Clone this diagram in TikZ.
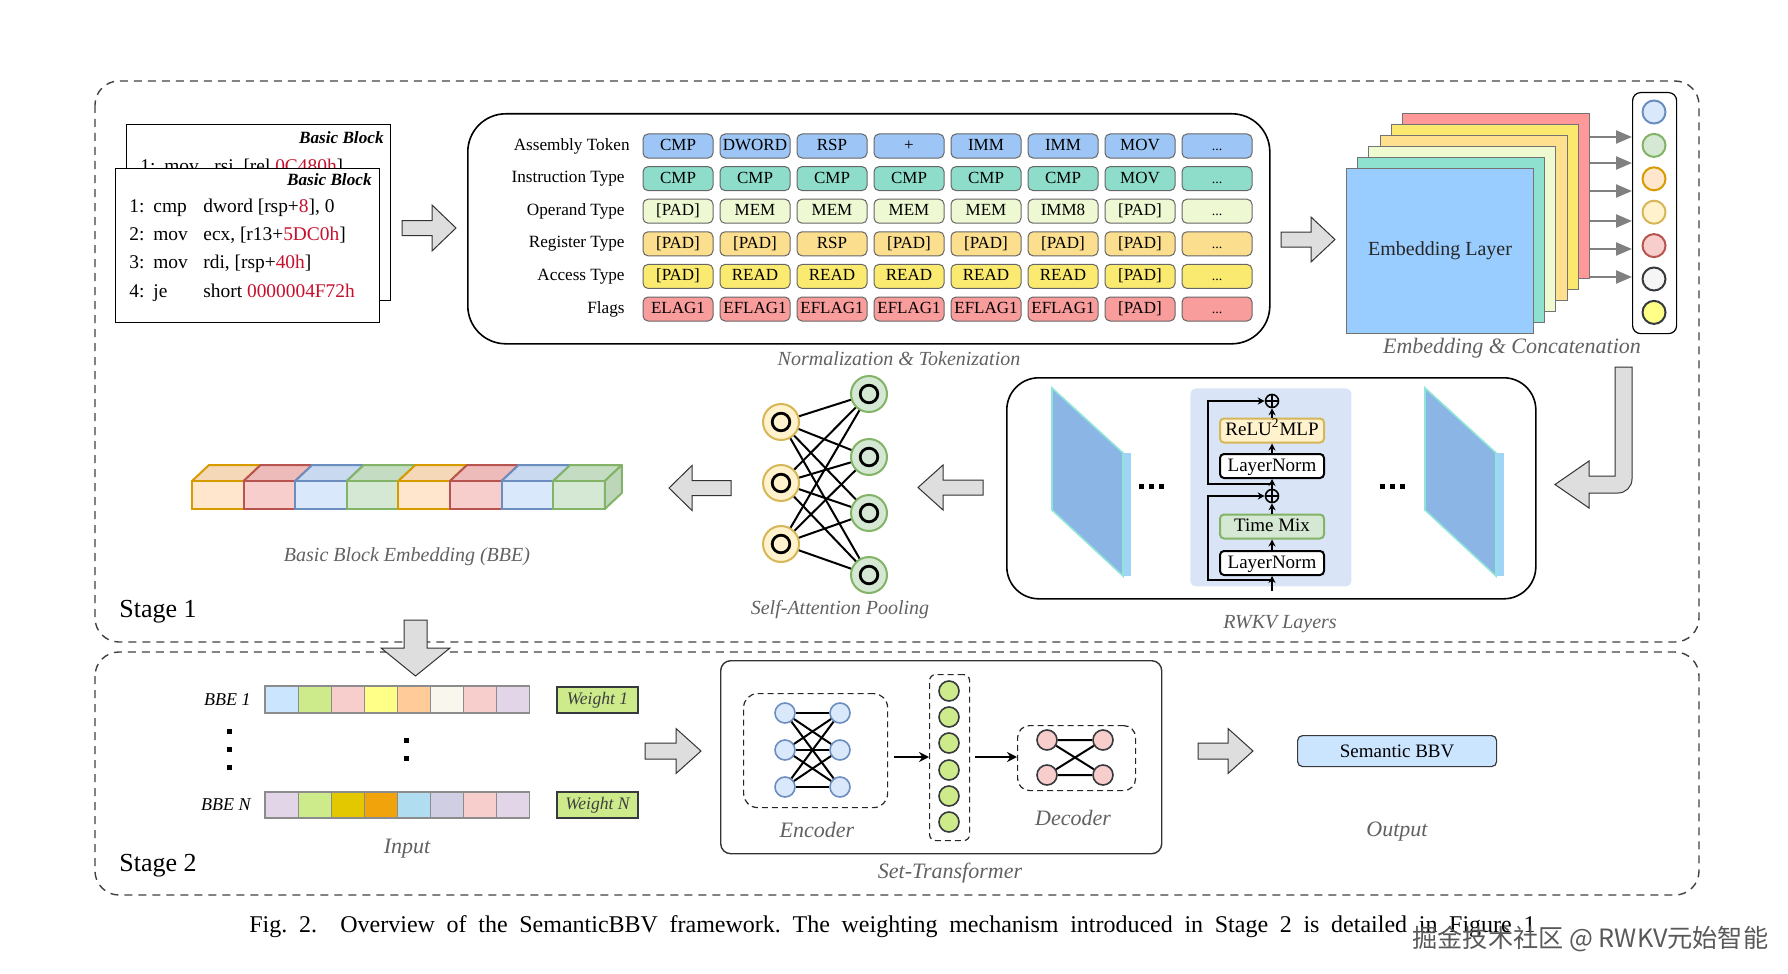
\documentclass[tikz,border=0pt]{standalone}
\usepackage{fontspec}
\setmainfont{Liberation Serif}
\newfontfamily\cjkfont{Noto Sans CJK SC}
\usetikzlibrary{arrows.meta}
\newcommand\fsz[1]{\fontsize{#1}{#1}\selectfont}
\newcommand\tdots{{\fsz{7}...}}
\definecolor{codered}{HTML}{C8102E}
\definecolor{tA}{HTML}{9DC6F6}
\definecolor{tB}{HTML}{8EDDCB}
\definecolor{tC}{HTML}{EEF9D3}
\definecolor{tD}{HTML}{FBDE8E}
\definecolor{tE}{HTML}{FAEA6F}
\definecolor{tF}{HTML}{F89C9C}
\definecolor{eA}{HTML}{99CCFF}
\definecolor{eB}{HTML}{8EE0CF}
\definecolor{eC}{HTML}{EEFBD0}
\definecolor{eD}{HTML}{FFE08F}
\definecolor{eE}{HTML}{FAE96E}
\definecolor{eF}{HTML}{FF9999}
\definecolor{dBlueF}{HTML}{DAE8FC}\definecolor{dBlueS}{HTML}{6C8EBF}
\definecolor{dGreenF}{HTML}{D5E8D4}\definecolor{dGreenS}{HTML}{82B366}
\definecolor{dOrF}{HTML}{FFE6CC}\definecolor{dOrS}{HTML}{D79B00}
\definecolor{dYelF}{HTML}{FFF2CC}\definecolor{dYelS}{HTML}{D6B656}
\definecolor{dRedF}{HTML}{F8CECC}\definecolor{dRedS}{HTML}{B85450}
\definecolor{dGrayF}{HTML}{F5F5F5}\definecolor{dDark}{HTML}{36393D}
\definecolor{dNote}{HTML}{FFFF88}
\definecolor{lime}{HTML}{CDEB8B}
\definecolor{skyF}{HTML}{CCE5FF}
\definecolor{topOr}{HTML}{F4D8B8}\definecolor{topRed}{HTML}{EDBBBA}
\definecolor{topBlue}{HTML}{C9D9EF}\definecolor{topGreen}{HTML}{C4DCC2}
\definecolor{sideGreen}{HTML}{BDD6BA}
\definecolor{slabF}{HTML}{8BB5E4}\definecolor{slabS}{HTML}{A0D4F7}\definecolor{slabE}{HTML}{8EE5D8}
\definecolor{rwbg}{HTML}{D9E5F7}
\definecolor{cOr}{HTML}{FFCC99}\definecolor{cIv}{HTML}{F9F7ED}\definecolor{cLav}{HTML}{E1D5E7}
\definecolor{cDY}{HTML}{E3C800}\definecolor{cDO}{HTML}{F0A30A}\definecolor{cCy}{HTML}{B1DDF0}\definecolor{cLB}{HTML}{D0CEE2}
\frenchspacing
\begin{document}
\begin{tikzpicture}[x=0.5pt,y=-0.5pt,
  stagebox/.style={draw=black!75, line width=0.7pt, dash pattern=on 4pt off 3pt, rounded corners=12pt},
  barrow/.style={draw=black!80, fill=black!13, line width=0.5pt, line join=miter},
  ital/.style={font=\itshape\fsz{10}, text=black!62},
  italb/.style={font=\itshape\fsz{11}, text=black!62},
  tok/.style={draw=black!60, line width=0.5pt, rounded corners=2.5pt, minimum width=35pt, minimum height=12pt, inner sep=0pt, font=\fsz{8.5}, text height=6pt, text depth=1.5pt},
  rlab/.style={anchor=base east, font=\fsz{8.6}, inner sep=0pt},
  code/.style={anchor=base west, font=\fsz{9.7}, inner sep=0pt},
  bbtitle/.style={anchor=base east, font=\bfseries\itshape\fsz{8.6}, inner sep=0pt},
  garrow/.style={draw=black!50, line width=1.2pt, -{Triangle[length=8pt,width=6.5pt]}},
  blk/.style={draw=black, line width=0.9pt, -{Stealth[length=3.5pt,width=3.5pt]}},
  ibox/.style={rounded corners=2pt, line width=1pt, minimum width=52pt, minimum height=12pt, inner sep=0pt, font=\fsz{9.5}, text height=6.5pt, text depth=1.5pt},
  plusn/.style={circle, draw, line width=0.8pt, minimum size=6.5pt, inner sep=0pt},
  satn/.style={circle, line width=1pt, minimum size=18pt, inner sep=0pt},
  embc/.style={circle, line width=1pt, minimum size=11.5pt, inner sep=0pt},
  stn/.style={circle, line width=0.8pt, minimum size=10pt, inner sep=0pt},
  dbox/.style={draw=black!85, line width=0.6pt, dash pattern=on 3pt off 2pt, anchor=north west, inner sep=0pt},
  lnk/.style={line width=1pt},
  cell/.style={draw=black!45, line width=0.6pt},
  wbox/.style={draw=dDark, fill=lime, line width=0.6pt, minimum width=40.5pt, minimum height=13pt, inner sep=0pt, font=\itshape\fsz{8.8}, text=black!75},
]
\useasboundingbox (0,0) rectangle (1788,974);

% ---------- stage frames ----------
\draw[stagebox] (95,81) rectangle (1699,642);
\draw[stagebox] (95,652) rectangle (1699,895);
\node[anchor=west, font=\fsz{13}, inner sep=0pt] (st1) at (119,612) {Stage 1};
\node[anchor=west, font=\fsz{13}, inner sep=0pt] (st2) at (119,866) {Stage 2};

% ---------- basic blocks ----------
\node[draw, fill=white, line width=0.6pt, anchor=north west, minimum width=132pt, minimum height=88pt, inner sep=0pt] (bb2) at (126,124) {};
\node[bbtitle] (bb2t) at (384,143) {Basic Block};
\node[code] (b0a) at (140,172) {1:};
\node[code] (b0b) at (164,172) {mov};
\node[code] (b0c) at (214,172) {rsi, [rel \textcolor{codered}{0C480h}]};
\node[draw, fill=white, line width=0.6pt, anchor=north west, minimum width=132pt, minimum height=77pt, inner sep=0pt] (bb1) at (115,168) {};
\node[bbtitle] (bb1t) at (372,185) {Basic Block};
\node[code] (l1a) at (129,212) {1:};
\node[code] (l1b) at (153,212) {cmp};
\node[code] (l1c) at (203,212) {dword [rsp+\textcolor{codered}{8}], 0};
\node[code] (l2a) at (129,240) {2:};
\node[code] (l2b) at (153,240) {mov};
\node[code] (l2c) at (203,240) {ecx, [r13+\textcolor{codered}{5DC0h}]};
\node[code] (l3a) at (129,268) {3:};
\node[code] (l3b) at (153,268) {mov};
\node[code] (l3c) at (203,268) {rdi, [rsp+\textcolor{codered}{40h}]};
\node[code] (l4a) at (129,297) {4:};
\node[code] (l4b) at (153,297) {je};
\node[code] (l4c) at (203,297) {short \textcolor{codered}{0000004F72h}};

% block arrow 1
\draw[barrow] (402,220.5) -- (432,220.5) -- (432,205) -- (456,228) -- (432,251) -- (432,235.5) -- (402,235.5) -- cycle;

% ---------- normalization & tokenization ----------
\node[draw, rounded corners=19pt, line width=0.8pt, anchor=north west, minimum width=401pt, minimum height=115pt, inner sep=0pt] (norm) at (467,113) {};
\node[rlab] (rl1) at (630,150) {Assembly Token};
\node[rlab] (rl2) at (625,182.6) {Instruction Type};
\node[rlab] (rl3) at (625,215.2) {Operand Type};
\node[rlab] (rl4) at (625,247.8) {Register Type};
\node[rlab] (rl5) at (625,280.4) {Access Type};
\node[rlab] (rl6) at (625,313) {Flags};
\foreach \t [count=\i from 0] in {CMP,DWORD,RSP,+,IMM,IMM,MOV,\tdots}
  \node[tok, fill=tA] (ta\i) at ({678+77*\i},146) {\t};
\foreach \t [count=\i from 0] in {CMP,CMP,CMP,CMP,CMP,CMP,MOV,\tdots}
  \node[tok, fill=tB] (tb\i) at ({678+77*\i},178.6) {\t};
\foreach \t [count=\i from 0] in {{[PAD]},MEM,MEM,MEM,MEM,IMM8,{[PAD]},\tdots}
  \node[tok, fill=tC] (tc\i) at ({678+77*\i},211.2) {\t};
\foreach \t [count=\i from 0] in {{[PAD]},{[PAD]},RSP,{[PAD]},{[PAD]},{[PAD]},{[PAD]},\tdots}
  \node[tok, fill=tD] (td\i) at ({678+77*\i},243.8) {\t};
\foreach \t [count=\i from 0] in {{[PAD]},READ,READ,READ,READ,READ,{[PAD]},\tdots}
  \node[tok, fill=tE] (te\i) at ({678+77*\i},276.4) {\t};
\foreach \t [count=\i from 0] in {ELAG1,EFLAG1,EFLAG1,EFLAG1,EFLAG1,EFLAG1,{[PAD]},\tdots}
  \node[tok, fill=tF] (tf\i) at ({678+77*\i},309) {\t};
\node[ital] (normlab) at (899,359) {Normalization \& Tokenization};

% block arrow 2
\draw[barrow] (1281,232) -- (1311,232) -- (1311,217) -- (1335,239.5) -- (1311,262) -- (1311,247) -- (1281,247) -- cycle;

% ---------- embedding stack ----------
\foreach \c [count=\k from 0] in {eF,eE,eD,eC,eB,eA}
  \node[draw=black!55, fill=\c, line width=0.5pt, anchor=north west, minimum width=93.5pt, minimum height=82.5pt, inner sep=0pt] (E\k) at ({1402-11.2*\k},{113+11*\k}) {};
\node[font=\fsz{10}, text=black!85] (emblab) at (E5.center) {Embedding Layer};
\node[draw, line width=0.6pt, rounded corners=4pt, anchor=north west, minimum width=22pt, minimum height=120.5pt, inner sep=0pt] (colbox) at (1632,92) {};
\foreach \f/\s [count=\i from 0] in {dBlueF/dBlueS,dGreenF/dGreenS,dOrF/dOrS,dYelF/dYelS,dRedF/dRedS,dGrayF/dDark,dNote/dDark}
  \node[embc, fill=\f, draw=\s] (c\i) at (1654,{112+33.4*\i}) {};
\foreach \y in {137,163,191,221,249,277}
  \draw[garrow] (E0.east |- 0,\y) -- (colbox.west |- 0,\y);
\node[italb] (emblab2) at (1512,348) {Embedding \& Concatenation};

% bent arrow
\draw[barrow] (1615,367) -- (1632,367) [rounded corners=7pt] -- (1632,493) [sharp corners] -- (1589,493) -- (1589,508) -- (1555,484.5) -- (1589,461) -- (1589,476) -- (1615,476) -- cycle;

% ---------- RWKV layers ----------
\node[draw, rounded corners=16pt, line width=0.8pt, anchor=north west, minimum width=264.5pt, minimum height=110.5pt, inner sep=0pt] (rwkv) at (1006,377) {};
\fill[slabS] (1123,453) -- (1131,453) -- (1131,576) -- (1123,576) -- cycle;
\draw[slabE, fill=slabF, line width=0.8pt] (1052,388) -- (1123,453) -- (1123,576) -- (1052,510) -- cycle;
\fill[slabS] (1496,453) -- (1504,453) -- (1504,576) -- (1496,576) -- cycle;
\draw[slabE, fill=slabF, line width=0.8pt] (1425,388) -- (1496,453) -- (1496,576) -- (1425,510) -- cycle;
\foreach \x in {1141,1151,1161,1382,1392,1402}
  \fill (\x-2.5,483.5) rectangle (\x+2.5,488.5);
\node[fill=rwbg, rounded corners=3pt, anchor=north west, minimum width=80.5pt, minimum height=99pt, inner sep=0pt] (panel) at (1190,388) {};
\node[ibox, draw=dYelS, fill=dYelF] (relu) at (1272,430.5) {ReLU\textsuperscript{2}MLP};
\node[ibox, draw=black, fill=white] (lnt) at (1272,466) {LayerNorm};
\node[ibox, draw=dGreenS, fill=dGreenF] (tmix) at (1272,526.5) {Time Mix};
\node[ibox, draw=black, fill=white] (lnb) at (1272,563) {LayerNorm};
\node[plusn] (p1) at (1272,401) {};
\node[plusn] (p2) at (1272,496) {};
\draw[line width=0.8pt] (p1.north) -- (p1.south) (p1.west) -- (p1.east);
\draw[line width=0.8pt] (p2.north) -- (p2.south) (p2.west) -- (p2.east);
\coordinate (inp) at (1272,591);
\coordinate (tapb) at (1272,580);
\coordinate (tapt) at (1272,484);
\draw[blk] (inp) -- (lnb.south);
\draw[blk] (lnb.north) -- (tmix.south);
\draw[blk] (tmix.north) -- (p2.south);
\draw[blk] (p2.north) -- (lnt.south);
\draw[blk] (lnt.north) -- (relu.south);
\draw[blk] (relu.north) -- (p1.south);
\draw[blk] (tapb) -- (1208,580) -- (1208,496) -- (p2.west);
\draw[blk] (tapt) -- (1208,484) -- (1208,401) -- (p1.west);
\node[ital] (rwlab) at (1280,624) {RWKV Layers};

% left arrows
\draw[barrow] (983,480) -- (943,480) -- (943,465) -- (918,487.5) -- (943,510) -- (943,495) -- (983,495) -- cycle;
\draw[barrow] (731,480.5) -- (692,480.5) -- (692,465.5) -- (669,488) -- (692,510.5) -- (692,495.5) -- (731,495.5) -- cycle;

% ---------- self-attention pooling ----------
\foreach \y [count=\i] in {422,483,544}
  \node[satn, draw=dYelS, fill=dYelF] (L\i) at (781,\y) {};
\foreach \y [count=\i] in {394,457,513,575}
  \node[satn, draw=dGreenS, fill=dGreenF] (R\i) at (869,\y) {};
\foreach \i in {1,2,3}
  \foreach \j in {1,2,3,4}
    \draw[lnk] (L\i) -- (R\j);
\foreach \n in {L1,L2,L3,R1,R2,R3,R4}
  \draw[line width=1.4pt] (\n.center) circle[radius=4.4pt];
\node[ital] (salab) at (840,610) {Self-Attention Pooling};

% ---------- BBE cubes ----------
\foreach \f/\t/\s [count=\i from 0] in {dOrF/topOr/dOrS,dRedF/topRed/dRedS,dBlueF/topBlue/dBlueS,dGreenF/topGreen/dGreenS,dOrF/topOr/dOrS,dRedF/topRed/dRedS,dBlueF/topBlue/dBlueS,dGreenF/topGreen/dGreenS}{
  \draw[draw=\s, fill=\t, line width=1pt, line join=round] ({192+51.6*\i},481) -- ({209+51.6*\i},465) -- ({260.6+51.6*\i},465) -- ({243.6+51.6*\i},481) -- cycle;
  \draw[draw=\s, fill=\f, line width=1pt] ({192+51.6*\i},481) rectangle ({243.6+51.6*\i},509);
}
\draw[draw=dGreenS, fill=sideGreen, line width=1pt, line join=round] (604.8,481) -- (621.8,465) -- (621.8,493) -- (604.8,509) -- cycle;
\node[ital] (bbelab) at (407,557) {Basic Block Embedding (BBE)};

% down arrow
\draw[barrow] (404,620) -- (427,620) -- (427,648) -- (450,648) -- (415.5,676) -- (381,648) -- (404,648) -- cycle;

% ---------- stage 2 input ----------
\node[anchor=east, font=\itshape\fsz{9}, inner sep=0pt] (bbe1) at (251,699.5) {BBE 1};
\node[anchor=east, font=\itshape\fsz{9}, inner sep=0pt] (bben) at (251,805) {BBE N};
\foreach \c [count=\i from 0] in {skyF,lime,dRedF,dNote,cOr,cIv,dRedF,cLav}
  \draw[cell, fill=\c] ({265+33.1*\i},686) rectangle ({298.1+33.1*\i},713);
\foreach \c [count=\i from 0] in {cLav,lime,cDY,cDO,cCy,cLB,dRedF,cLav}
  \draw[cell, fill=\c] ({265+33.1*\i},792) rectangle ({298.1+33.1*\i},818);
\foreach \y in {731,749,767}
  \fill (226.5,\y-2.5) rectangle (231.5,\y+2.5);
\foreach \y in {740,758}
  \fill (403.5,\y-2.5) rectangle (408.5,\y+2.5);
\node[wbox] (w1) at (597.5,700) {Weight 1};
\node[wbox] (wn) at (597.5,805) {Weight N};
\node[italb] (inlab) at (407,849) {Input};

% right arrows stage 2
\draw[barrow] (645,743) -- (676,743) -- (676,728.5) -- (701,751) -- (676,773.5) -- (676,759) -- (645,759) -- cycle;
\draw[barrow] (1198,743) -- (1228,743) -- (1228,728.5) -- (1253,751) -- (1228,773.5) -- (1228,759) -- (1198,759) -- cycle;

% ---------- set transformer ----------
\node[draw=black!80, line width=0.7pt, rounded corners=5pt, anchor=north west, minimum width=220.5pt, minimum height=96.5pt, inner sep=0pt] (stbox) at (720,660) {};
\node[dbox, rounded corners=7pt, minimum width=72pt, minimum height=57pt] (encbox) at (743,693) {};
\foreach \y [count=\i] in {713,750,787}{
  \node[stn, fill=dBlueF, draw=dBlueS] (EL\i) at (785,\y) {};
  \node[stn, fill=dBlueF, draw=dBlueS] (ER\i) at (840,\y) {};
}
\foreach \i in {1,2,3}
  \foreach \j in {1,2,3}
    \draw[lnk] (EL\i) -- (ER\j);
\node[italb] (enclab) at (817,830) {Encoder};
\node[dbox, rounded corners=3pt, minimum width=20pt, minimum height=83pt] (midbox) at (929,674) {};
\foreach \y [count=\i] in {691,717,743,770,796,822}
  \node[stn, fill=lime, draw=dDark] (M\i) at (949,\y) {};
\node[dbox, rounded corners=6pt, minimum width=59pt, minimum height=32.5pt] (decbox) at (1017,725) {};
\node[stn, fill=dRedF, draw=dDark] (D1) at (1047,740) {};
\node[stn, fill=dRedF, draw=dDark] (D2) at (1103,740) {};
\node[stn, fill=dRedF, draw=dDark] (D3) at (1047,775) {};
\node[stn, fill=dRedF, draw=dDark] (D4) at (1103,775) {};
\draw[lnk] (D1) -- (D2) (D3) -- (D4) (D1) -- (D4) (D3) -- (D2);
\node[italb] (declab) at (1073,818) {Decoder};
\draw[blk, line width=1pt, -{Stealth[length=5pt,width=5pt]}] (encbox.east |- 0,757) ++(6,0) -- (midbox.west |- 0,757);
\draw[blk, line width=1pt, -{Stealth[length=5pt,width=5pt]}] (midbox.east |- 0,757) ++(5,0) -- (decbox.west |- 0,757);
\node[italb] (stlab) at (950,873) {Set-Transformer};

% ---------- output ----------
\node[draw=dDark, fill=skyF, line width=0.6pt, rounded corners=2.5pt, anchor=north west, minimum width=99.5pt, minimum height=15.5pt, inner sep=0pt, font=\fsz{9.5}] (sbbv) at (1297,735) {Semantic BBV};
\node[italb] (outlab) at (1397,832) {Output};

% ---------- caption & watermark ----------
\node[anchor=base west, inner sep=0pt, font=\fsz{12}] (cap) at (249,932) {\makebox[643pt][s]{Fig.~2.\ \ Overview of the SemanticBBV framework. The weighting mechanism introduced in Stage 2 is detailed in Figure 1}};
\node[anchor=base west, inner sep=0pt, font=\cjkfont\fsz{12.6}, text=black!65] (wm) at (1412,947) {掘金技术社区 @ RWKV元始智能};
\end{tikzpicture}
\end{document}
